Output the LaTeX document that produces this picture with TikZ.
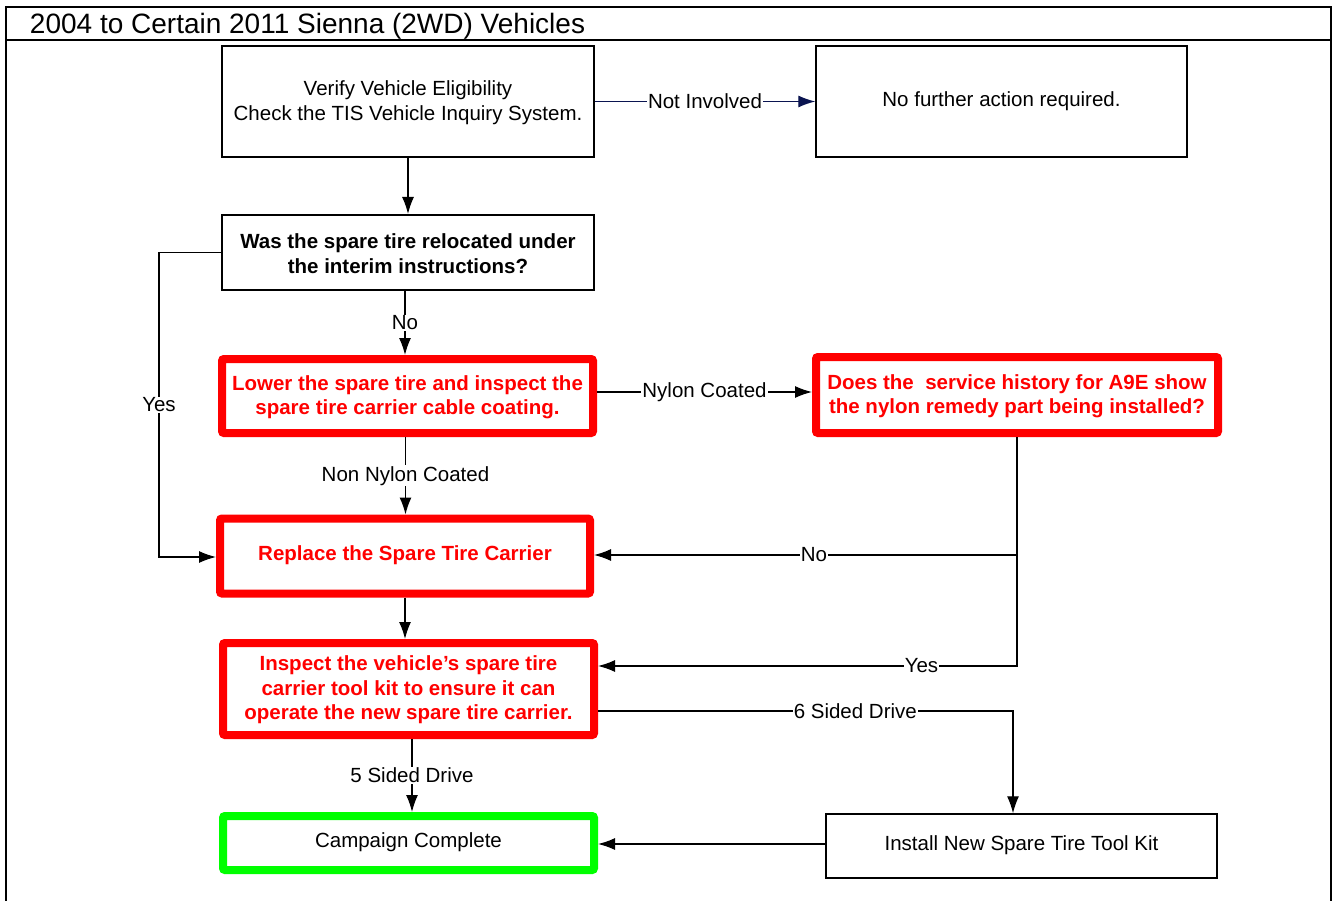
\documentclass[tikz,border=0pt]{standalone}
\usepackage{fontspec}
\setmainfont{Liberation Sans}
\usetikzlibrary{arrows.meta, calc, positioning}

\definecolor{alertred}{RGB}{255,0,0}
\definecolor{okgreen}{RGB}{0,255,0}
\definecolor{navyline}{RGB}{10,20,80}

\tikzset{
	box/.style={draw, line width=1.4pt, align=center, inner sep=2pt},
	redbox/.style={draw=alertred, line width=8pt, rounded corners=2pt, align=center, text=alertred, font=\bfseries\fontsize{20.5}{24.5}\selectfont},
	greenbox/.style={draw=okgreen, line width=8pt, rounded corners=2pt, align=center},
	lbl/.style={fill=white, inner sep=1pt, text=black, font=\fontsize{20.5}{24.5}\selectfont},
	flow/.style={-{Latex[length=17pt,width=12pt]}},
}

\begin{document}
\begin{tikzpicture}[x=1pt, y=-1pt, line width=1.3pt, font=\fontsize{20.5}{24.5}\selectfont]
		\useasboundingbox (0,0) rectangle (1338,901);

		% frame and title
		\draw[line width=2pt] (6,7) rectangle (1331,930);
		\draw[line width=2pt] (6,40) -- (1331,40);
		\node[anchor=west, font=\fontsize{28}{32}\selectfont] (title) at (26,26) {2004 to Certain 2011 Sienna (2WD) Vehicles};

		\node[box, minimum width=372, minimum height=111] (verify) at (408,101.5) {\strut Verify Vehicle Eligibility\\Check the TIS Vehicle Inquiry System.};
		\node[box, minimum width=371, minimum height=111] (nofurther) at (1001.5,101.5) {\strut No further action required.};
		\node[box, line width=2pt, minimum width=372, minimum height=75, font=\bfseries\fontsize{20.5}{24.5}\selectfont] (relocated) at (408,252.5) {\strut Was the spare tire relocated under\\the interim instructions?};
		\node[redbox, minimum width=371, minimum height=74] (lower) at (407.5,396) {\strut Lower the spare tire and inspect the\\spare tire carrier cable coating.};
		\node[redbox, minimum width=402, minimum height=76] (history) at (1017,395) {\strut Does the \ service history for A9E show\\the nylon remedy part being installed?};
		\node[redbox, minimum width=370, minimum height=75] (replace) at (405,556) {\strut Replace the Spare Tire Carrier};
		\node[redbox, minimum width=371, minimum height=92] (inspect) at (408.5,689) {\strut Inspect the vehicle’s spare tire\\carrier tool kit to ensure it can\\operate the new spare tire carrier.};
		\node[greenbox, minimum width=371, minimum height=54] (complete) at (408.5,843) {\strut Campaign Complete};
		\node[box, minimum width=391, minimum height=64] (toolkit) at (1021.5,846) {\strut Install New Spare Tire Tool Kit};

		\draw[flow] (verify.south) -- (relocated.north);
		\draw[flow, navyline] (verify.east) -- node[lbl] {Not Involved} (nofurther.west);
		\draw[flow] ([xshift=-3pt]relocated.south) -- node[lbl] {No} ([xshift=-3pt]relocated.south |- lower.north);
		\draw[flow] (relocated.west) -- ++(-62,0) |- node[lbl, pos=0.25] {Yes} ([yshift=-1pt]replace.west);
		\draw[flow] ([yshift=4pt]lower.east) -- node[lbl] {Nylon Coated} ([yshift=4pt]lower.east -| history.west);
		\draw[flow] ([xshift=-2pt]lower.south) -- node[lbl] {Non Nylon Coated} ([xshift=-2pt]lower.south |- replace.north);
		\draw[flow] (history.south) |- node[lbl, pos=0.614] {Yes} ([yshift=23pt]inspect.east);
		\draw[flow] ([yshift=1pt]history.south |- replace.east) -- node[lbl, pos=0.48] {No} ([yshift=1pt]replace.east);
		\draw[flow] (replace.south) -- (replace.south |- inspect.north);
		\draw[flow] ([yshift=-22pt]inspect.east) -| node[lbl, pos=0.31] {6 Sided Drive} ([xshift=-8.5pt]toolkit.north);
		\draw[flow] ([xshift=3.5pt]inspect.south) -- node[lbl] {5 Sided Drive} ([xshift=3.5pt]complete.north);
		\draw[flow] ([yshift=2pt]toolkit.west) -- ([yshift=2pt]toolkit.west -| complete.east);
	\end{tikzpicture}
\end{document}
